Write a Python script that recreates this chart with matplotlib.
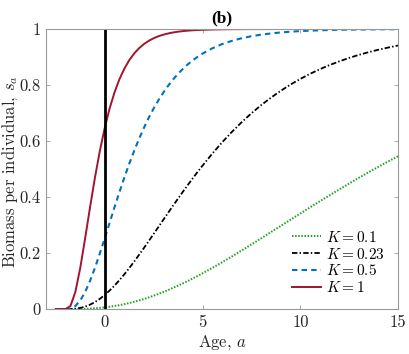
import matplotlib
matplotlib.use("Agg")
import matplotlib.pyplot as plt

plt.rcParams['font.family'] = 'serif'
plt.rcParams['font.serif'] = ['cmr10']
plt.rcParams['mathtext.fontset'] = 'cm'
plt.rcParams['axes.formatter.use_mathtext'] = True

ages = [-2.5, -2.25, -2, -1.75, -1.5, -1.25, -1, -0.75, -0.5, -0.25, 0, 0.25, 0.5, 0.75, 1,
        1.25, 1.5, 1.75, 2, 2.25, 2.5, 2.75, 3, 3.25, 3.5, 3.75, 4, 4.25, 4.5, 4.75, 5,
        5.5, 6, 6.5, 7, 7.5, 8, 8.5, 9, 9.5, 10, 10.5, 11, 11.5, 12, 12.5, 13, 13.5, 14, 14.5, 15]

s_k01 = [0, 0, 0, 0.000015, 0.000116, 0.000377, 0.000862, 0.00162, 0.0027, 0.00413, 0.00596,
         0.00818, 0.01082, 0.01389, 0.01741, 0.02137, 0.02575, 0.03058, 0.03584, 0.04149, 0.0476,
         0.05405, 0.06093, 0.06812, 0.07574, 0.08363, 0.09186, 0.1003, 0.1092, 0.1182, 0.1276,
         0.1469, 0.167, 0.1877, 0.209, 0.2307, 0.2526, 0.2748, 0.2969, 0.3192, 0.3412, 0.3632,
         0.385, 0.4065, 0.4276, 0.4484, 0.4689, 0.4889, 0.5084, 0.5275, 0.5459]

s_k023 = [0, 0, 0, 0.000174, 0.00128, 0.00397, 0.00868, 0.01561, 0.02485, 0.03637, 0.05012,
          0.06594, 0.08363, 0.103, 0.1238, 0.1459, 0.169, 0.193, 0.2176, 0.2426, 0.2681,
          0.2936, 0.3192, 0.3446, 0.3698, 0.3946, 0.4192, 0.4433, 0.4668, 0.4899, 0.5122,
          0.555, 0.5953, 0.6325, 0.6672, 0.6991, 0.7283, 0.7551, 0.7794, 0.8018, 0.8219, 0.8402,
          0.8566, 0.8715, 0.8847, 0.897, 0.9079, 0.9175, 0.9263, 0.934, 0.9412]

s_k05 = [0, 0, 0, 0.00162, 0.01082, 0.03058, 0.0609, 0.1003, 0.1469, 0.1983, 0.2526,
         0.308, 0.3632, 0.4172, 0.4689, 0.518, 0.564, 0.6068, 0.6465, 0.6829, 0.716,
         0.7462, 0.7734, 0.7981, 0.8203, 0.8402, 0.8579, 0.874, 0.8881, 0.9009, 0.9121,
         0.9311, 0.9461, 0.9577, 0.9671, 0.9743, 0.9799, 0.9843, 0.9878, 0.9905, 0.9926, 0.9942,
         0.9955, 0.9965, 0.9973, 0.9979, 0.9983, 0.9987, 0.999, 0.9992, 0.9994]

s_k1 = [0, 0, 0, 0.01082, 0.0609, 0.1469, 0.2526, 0.3632, 0.4689, 0.564, 0.6465,
        0.716, 0.7734, 0.8203, 0.8579, 0.8881, 0.9121, 0.9311, 0.9461, 0.9577, 0.9671,
        0.9743, 0.9799, 0.9843, 0.9878, 0.9905, 0.9926, 0.9942, 0.9955, 0.9965, 0.9973,
        0.9983, 0.999, 0.9994, 0.9996, 0.9998, 0.9999, 1, 1, 1, 1, 1,
        1, 1, 1, 1, 1, 1, 1, 1, 1]

labels = [r'$K=0.1$', r'$K=0.23$', r'$K=0.5$', r'$K=1$']
xticks = [0, 5, 10, 15]
yticks = [0, 0.2, 0.4, 0.6, 0.8, 1]
ytick_labels = ['0', '0.2', '0.4', '0.6', '0.8', '1']

fig = plt.figure(figsize=(4.09, 3.54), dpi=100)
ax = fig.add_axes([0.1125, 0.127, 0.861, 0.791])

ax.plot(ages, s_k01, color='#22a022', linestyle=(0, (0.8, 0.8)), linewidth=1.4, label=labels[0])
ax.plot(ages, s_k023, color='black', linestyle=(0, (3.0, 1.2, 0.8, 1.2)), linewidth=1.3, label=labels[1])
ax.plot(ages, s_k05, color='#0072BD', linestyle=(0, (2.6, 2.0)), linewidth=1.5, label=labels[2])
ax.plot(ages, s_k1, color='#A2142F', linestyle='-', linewidth=1.4, label=labels[3])
ax.plot([0, 0], [0, 1], color='black', linewidth=2.0)

ax.set_xlim(-3, 15)
ax.set_ylim(0, 1)
ax.set_xticks(xticks)
ax.set_xticklabels([str(t) for t in xticks])
ax.set_yticks(yticks)
ax.set_yticklabels(ytick_labels)
ax.tick_params(direction='in', top=True, right=True, length=3, width=0.6,
               color='0.6', labelsize=12, labelcolor='0.15', pad=4)
for sp in ax.spines.values():
    sp.set_color('0.6')
    sp.set_linewidth(0.8)

ax.set_xlabel(r'Age, $a$', fontsize=12, color='0.15', labelpad=2)
ax.set_ylabel(r'Biomass per individual, $s_a$', fontsize=12, color='0.15')
ax.yaxis.set_label_coords(-0.073, 0.49)
ax.set_title('(b)', fontsize=12.5, fontweight='bold',
             fontfamily=['Liberation Serif', 'DejaVu Serif'], pad=5)

ax.legend(loc='lower right', frameon=False, fontsize=11, handlelength=1.9,
          handletextpad=0.3, labelspacing=0.12, borderaxespad=0.5)

fig.savefig('out.png', dpi=100)
